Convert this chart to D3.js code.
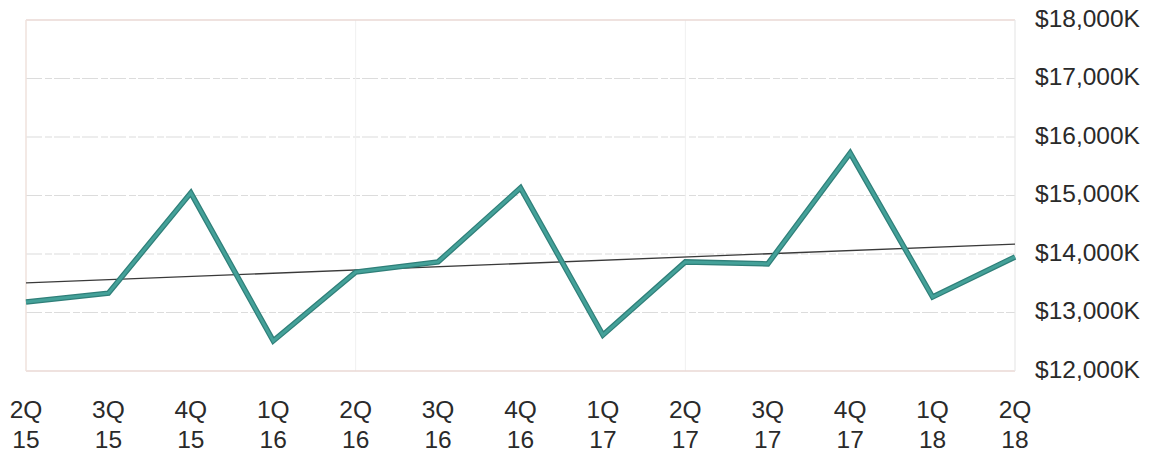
<!DOCTYPE html>
<html>
<head>
<meta charset="utf-8">
<script src="https://cdn.jsdelivr.net/npm/d3@7"></script>
<style>
  body { margin: 0; background: #fff; }
  svg { display: block; font-family: "Liberation Sans", Arial, sans-serif; }
</style>
</head>
<body>
<svg width="1159" height="452"></svg>
<script>
var quarters = ["2Q", "3Q", "4Q", "1Q", "2Q", "3Q", "4Q", "1Q", "2Q", "3Q", "4Q", "1Q", "2Q"];
var years    = ["15", "15", "15", "16", "16", "16", "16", "17", "17", "17", "17", "18", "18"];
var revenue  = [13180, 13330, 15045, 12515, 13690, 13865, 15130, 12615, 13865, 13830, 15725, 13265, 13950];
var trend    = [13505, 14170];   // trend line at first and last quarter
var yTicks   = [12000, 13000, 14000, 15000, 16000, 17000, 18000];

var svg = d3.select("svg"),
    left = 26,
    right = 1015,
    top_ = 20,
    bottom = 371;

var idx = d3.range(quarters.length);

var xScale = d3.scaleLinear([0, quarters.length - 1], [left, right]);
var yScale = d3.scaleLinear([12000, 18000], [bottom, top_]);

// horizontal gridlines
svg.append("g")
    .selectAll("line")
    .data(yTicks.slice(1, -1))
    .enter().append("line")
    .attr("x1", left).attr("x2", right)
    .attr("y1", d => yScale(d)).attr("y2", d => yScale(d))
    .attr("stroke", "#dcdcdc")
    .attr("stroke-width", 1.1)
    .attr("stroke-dasharray", "16,3,7,2");

// faint vertical gridlines at each 2Q
svg.append("g")
    .selectAll("line")
    .data(idx.filter(i => quarters[i] == "2Q" && i > 0 && i < quarters.length - 1))
    .enter().append("line")
    .attr("x1", d => xScale(d)).attr("x2", d => xScale(d))
    .attr("y1", top_).attr("y2", bottom)
    .attr("stroke", "#f0f0f0")
    .attr("stroke-width", 1);

// frame
svg.append("line").attr("x1", left).attr("x2", right).attr("y1", top_).attr("y2", top_)
    .attr("stroke", "#ead8d4").attr("stroke-width", 1.5);
svg.append("line").attr("x1", left).attr("x2", right).attr("y1", bottom).attr("y2", bottom)
    .attr("stroke", "#ead8d4").attr("stroke-width", 1.5);
svg.append("line").attr("x1", left).attr("x2", left).attr("y1", top_).attr("y2", bottom)
    .attr("stroke", "#efe2dc").attr("stroke-width", 1.5);
svg.append("line").attr("x1", right).attr("x2", right).attr("y1", top_).attr("y2", bottom)
    .attr("stroke", "#e8e8e8").attr("stroke-width", 1.2);

// right axis
svg.append("g")
    .attr("transform", "translate(" + (right + 20) + ",0)")
    .call(d3.axisRight(yScale).tickValues(yTicks).tickSize(0).tickPadding(0)
        .tickFormat(d => "$" + d3.format(",")(d) + "K"))
    .call(g => g.select(".domain").remove())
    .selectAll("text")
    .attr("font-family", "Liberation Sans, Arial, sans-serif")
    .attr("font-size", "24.5px")
    .attr("fill", "#2a2a2a")
    .attr("dy", "0.25em");

// x labels (two lines)
var xl = svg.append("g")
    .selectAll("text")
    .data(idx)
    .enter().append("text")
    .attr("x", d => xScale(d))
    .attr("text-anchor", "middle")
    .attr("font-size", "24.5px")
    .attr("fill", "#2a2a2a");
xl.append("tspan").attr("x", d => xScale(d)).attr("y", 418).text(d => quarters[d]);
xl.append("tspan").attr("x", d => xScale(d)).attr("y", 448).text(d => years[d]);

// trend line
svg.append("line")
    .attr("x1", xScale(0)).attr("y1", yScale(trend[0]))
    .attr("x2", xScale(quarters.length - 1)).attr("y2", yScale(trend[1]))
    .attr("stroke", "#3a3a3a")
    .attr("stroke-width", 1.3);

// revenue line
var line = d3.line()
    .x(d => xScale(d))
    .y(d => yScale(revenue[d]));

svg.append("path")
    .datum(idx)
    .attr("d", line)
    .attr("fill", "none")
    .attr("stroke", "#2f7f79")
    .attr("stroke-width", 5.5)
    .attr("stroke-linejoin", "miter");

svg.append("path")
    .datum(idx)
    .attr("d", line)
    .attr("fill", "none")
    .attr("stroke", "#44a199")
    .attr("stroke-width", 3)
    .attr("stroke-linejoin", "miter");
</script>
</body>
</html>
